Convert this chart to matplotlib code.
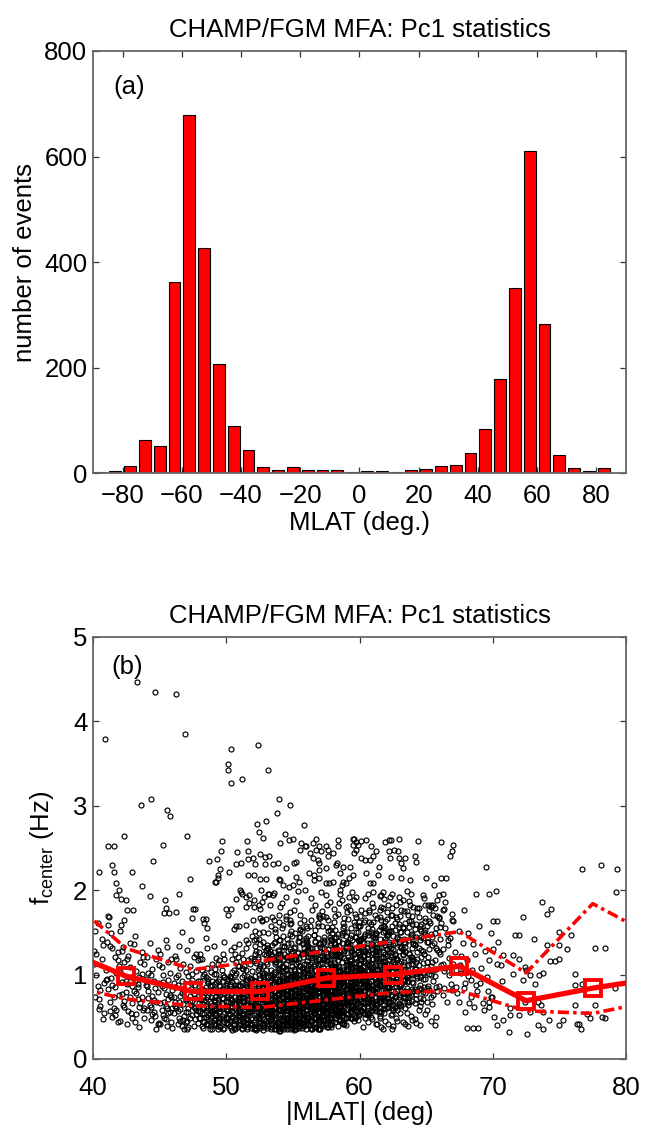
import matplotlib
matplotlib.use('Agg')
import matplotlib.pyplot as plt
import numpy as np

# ---------------- panel (a): histogram ----------------
hist_centers = [-87.5, -82.5, -77.5, -72.5, -67.5, -62.5, -57.5, -52.5, -47.5, -42.5,
                -37.5, -32.5, -27.5, -22.5, -17.5, -12.5, -7.5, -2.5, 2.5, 7.5,
                12.5, 17.5, 22.5, 27.5, 32.5, 37.5, 42.5, 47.5, 52.5, 57.5,
                62.5, 67.5, 72.5, 77.5, 82.5, 87.5]
hist_counts = [1, 3, 14, 63, 51, 362, 679, 426, 207, 90,
               44, 11, 6, 11, 6, 6, 6, 2, 3, 3,
               1, 6, 8, 13, 15, 38, 84, 179, 350, 611,
               283, 35, 9, 3, 9, 0]
hist_xticks = [-80, -60, -40, -20, 0, 20, 40, 60, 80]
hist_yticks = [0, 200, 400, 600, 800]

# ---------------- panel (b): red statistics lines ----------------
bin_centers = [37.5, 42.5, 47.5, 52.5, 57.5, 62.5, 67.5, 72.5, 77.5, 82.5]
f_median = [1.31, 0.98, 0.80, 0.80, 0.96, 1.00, 1.10, 0.69, 0.84, 0.96]
f_upper = [1.99, 1.31, 1.06, 1.16, 1.28, 1.39, 1.51, 1.02, 1.84, 1.42]
f_lower = [0.89, 0.71, 0.63, 0.61, 0.70, 0.79, 0.81, 0.57, 0.54, 0.70]
b_xticks = [40, 50, 60, 70, 80]
b_yticks = [0, 1, 2, 3, 4, 5]

# scatter points, per 1-degree |MLAT| column: token "dYYY" -> MLAT = col + d/10, f = YYY/100
scatter_40_49 = """
40: 0112 3087 5063 7135 9094 1152 4071 6118 8055 2099 0128 5082 7047 3161 9105 1074 6142 8090 4059 2124
41: 0095 2068 4131 6052 8117 1083 3149 5061 7102 9076 0139 2057 4088 6121 8044 1170 3096 5073 7058 9110 2134 6085 4050 8127
42: 1091 3062 5118 7074 9048 0103 2133 4079 6057 8097 1128 3069 5041 7109 9086 0152 2064 4093 6122 8054 1077 3115 5089 7138 9066 0045
43: 0081 2104 4062 6127 8049 1093 3071 5115 7058 9088 0136 2053 4097 6074 8112 1044 3085 5066 7121 9095 2078 4038 6101 8060 1146 3089
44: 1072 3099 5056 7118 9043 0087 2064 4107 6051 8129 1080 3046 5093 7067 9111 0058 2138 4075 6084 8041 1102 3062 5070 7036 9090 0121 4053 8079
45: 0066 2091 4047 6115 8073 1058 3084 5039 7102 9061 0125 2052 4077 6094 8044 1109 3068 5133 7056 9082 0041 2099 4063 6071 8118 1087 3049 5060 7076 9037 4141 6054
46: 1063 3088 5045 7112 9070 0054 2097 4068 6039 8081 1122 3057 5075 7046 9103 0090 2061 4134 6078 8051 1085 3042 5108 7065 9056 0074 2118 4049 6092 8035 1067 3100 5059 7083 9044 6150
47: 0071 2048 4094 6061 8117 1056 3083 5039 7104 9066 0129 2075 4052 6088 8043 1098 3064 5121 7058 9079 0036 2110 4069 6047 8092 1060 3141 5077 7053 9086 0045 2067 4101 6072 8057 1038 3090 5062 7125 9049
48: 1066 3044 5093 7058 9112 0071 2037 4085 6052 8103 1079 3060 5131 7046 9088 0057 2098 4063 6040 8074 1119 3053 5081 7069 9035 0092 2061 4143 6076 8048 1105 3068 5042 7087 9056 0124 2073 4050 6095 8062 1039 3082 5108 7054
48: 0049 1083 2062 3101 4041 5074 6090 7036 8066 9057 0118 1055 2044 3070 4097 5060 6047 7081 8039 9093
49: 0063 2091 4047 6072 8118 1055 3080 5038 7099 9067 0134 2052 4086 6059 8044 1107 3071 5061 7125 9050 0082 2040 4095 6066 8078 1048 3113 5057 7036 9088 0070 2101 4054 6083 8139 1064 3045 5076 7092 9059 0042 2120 4068 6051 8097 1074 3035 5087
49: 0058 1041 2075 3093 4062 5049 6106 7072 8037 9084 0046 1089 2060 3039 4117 5080 6066 7048 8097 9043 0101 1067 2052 3078 4044
"""

scatter_50_54 = """
50: 1058 3087 5041 7102 9069 0076 2053 4119 6064 8038 1095 3061 5080 7047 9136 0059 2072 4091 6035 8110 1067 3049 5154 7083 9056 0043 2098 4070 6125 8061 1082 3037 5106 7058 9074 0093 2046 4063 6088 8052 1171 3078 5040 7115 9065 0057 2089 4034 6099 8072 1048 3129 5066 7084 9051
50: 0048 1074 2039 3096 4057 5084 6045 7066 8121 9040 0090 1053 2080 3062 4103 5037 6073 7054 8088 9110 0064 1042 2097 3071 4050 5133 6061 7092 8046 9077
51: 0066 2044 4091 6057 8120 1073 3039 5085 7062 9104 0050 2078 4141 6046 8069 1097 3058 5036 7113 9081 0064 2053 4089 6072 8043 1126 3067 5094 7040 9059 0082 2107 4048 6076 8061 1035 3099 5070 7052 9146 0088 2063 4041 6117 8079 1055 3083 5038 7096 9068 0045 2073 4131 6059 8086 1049 3110 5064 7077 9042
51: 0058 1090 2049 3072 4106 5043 6081 7064 8037 9095 0073 1052 2118 3040 4065 5098 6054 7086 8049 9071 0041 1108 2062 3083 4047 5075 6137 7056 8092 9062 0087 1037 2069 3053 4094
52: 1071 3048 5096 7059 9123 0064 2037 4084 6052 8102 1079 3061 5043 7110 9073 0089 2055 4142 6067 8040 1098 3075 5058 7034 9087 0116 2063 4049 6081 8070 1036 3105 5054 7092 9045 0077 2128 4060 6085 8047 1066 3039 5113 7072 9056 0093 2041 4080 6163 8058 1087 3068 5047 7099 9062 0035 2074 4108 6053 8089 1134 3057 5076 7042 9069
52: 0052 1093 2071 3118 4039 5066 6102 7084 8047 9129 0141 1060 2034 3087 4075 5110 6056 7043 8095 9068 0081 1124 2049 3063 4099 5037 6077 7150 8058 9106 0044 1072 2114 3051 4086 5136 6065 7097 8038 9080
53: 0070 2047 4099 6061 8125 1082 3038 5074 7056 9107 0089 2063 4042 6115 8077 1051 3094 5068 7036 9141 0058 2084 4072 6046 8100 1065 3119 5053 7088 9040 0076 2057 4135 6081 8044 1098 3062 5035 7071 9112 0050 2093 4066 6154 8059 1079 3043 5103 7067 9085 0037 2128 4054 6075 8092 1048 3070 5117 7061 9033 0087 2056 4096 6073 8043 1131 3064 5080 7049 9106
53: 0061 1039 2082 3105 4050 5127 6069 7091 8044 9076 0113 1084 2053 3036 4096 5062 6139 7047 8108 9058 0088 1072 2120 3066 4041 5089 6054 7115 8078 9035 0132 1097 2045 3079 4064 5101 6040 7073 8121 9092 0056 1149 2060 3094 4083 5046 6112 7039 8066 9128 0042 1063 2099 3052 4168 5081 6095 7060 8041 9071 0075 1051 2087 3124 4057
54: 1074 3046 5101 7063 9128 0080 2040 4090 6057 8117 1066 3085 5036 7097 9071 0052 2109 4077 6045 8138 1093 3061 5082 7039 9056 0120 2068 4048 6087 8074 1104 3035 5063 7148 9079 0058 2096 4042 6070 8089 1053 3125 5076 7064 9037 0099 2083 4113 6050 8067 1042 3091 5071 7160 9060 0086 2047 4106 6081 8055 1134 3068 5094 7044 9075 0033 2119 4062 6099 8051 1078 3088 5058 7073 9110
54: 0093 1045 2074 3059 4121 5083 6041 7106 8066 9049 0037 1098 2062 3134 4071 5052 6089 7079 8043 9115 0068 1110 2039 3085 4047 5142 6061 7094 8126 9063 0104 1057 2091 3041 4080 5069 6117 7036 8075 9087 0053 1076 2146 3067 4096 5039 6082 7058 8101 9040 0125 1065 2050 3109 4062 5093 6048 7130 8056 9079 0084 1037 2078 3092 4044 5107 6073 7065 8161 9098
"""

scatter_55_59 = """
55: 0077 2051 4106 6064 8132 1089 3042 5071 7097 9058 0118 2069 4037 6084 8048 1101 3075 5145 7060 9089 0044 2092 4073 6055 8113 1064 3087 5039 7126 9076 0060 2100 4047 6079 8093 1035 3115 5067 7052 9138 0085 2058 4096 6071 8041 1122 3063 5080 7107 9050 0092 2036 4074 6152 8066 1083 3049 5110 7072 9041 0098 2077 4061 6087 8127 1054 3094 5068 7045 9083 0034 2119 4080 6057 8101 1070 3140 5062
55: 0049 1081 2060 3126 4090 5043 6108 7073 8055 9097 0071 1039 2113 3062 4054 5085 6037 7137 8081 9064 0099 1053 2088 3045 4118 5074 6062 7041 8104 9070 0131 1094 2047 3078 4066 5153 6089 7056 8039 9112 0058 1120 2070 3100 4044 5063 6125 7085 8068 9036 0107 1065 2040 3091 4139 5052 6076 7103 8047 9086 0082 1046 2097 3057 4110 5095 6043 7067 8090 9143 0038 1104 2080 3069 4075
56: 1082 3055 5110 7068 9137 0091 2045 4078 6059 8118 1073 3096 5041 7086 9063 0129 2070 4100 6050 8084 1146 3066 5092 7038 9075 0107 2061 4089 6043 8069 1121 3081 5054 7098 9036 0076 2113 4065 6087 8158 1049 3071 5095 7060 9104 0084 2040 4131 6073 8056 1090 3046 5078 7117 9067 0099 2053 4083 6140 8062 1072 3108 5057 7092 9044 0068 2124 4088 6048 8079 1102 3035 5066 7085 9171 0058 2094 4075 6112 8051
56: 0059 1098 2042 3072 4126 5085 6066 7048 8111 9090 0140 1063 2080 3037 4096 5054 6121 7076 8050 9067 0093 1040 2106 3064 4082 5147 6058 7092 8035 9118 0074 1110 2057 3089 4045 5069 6100 7131 8078 9054 0046 1083 2132 3051 4068 5038 6088 7060 8097 9079 0116 1049 2074 3103 4059 5124 6041 7083 8066 9046 0085 1134 2063 3095 4036 5076 6153 7106 8056 9093 0063 1071 2091 3044 4115
57: 0088 2061 4117 6072 8141 1095 3050 5081 7105 9066 0127 2076 4043 6092 8059 1112 3084 5156 7064 9097 0047 2101 4079 6062 8123 1070 3093 5038 7135 9082 0068 2109 4055 6086 8098 1041 3120 5074 7057 9149 0091 2065 4103 6078 8048 1131 3069 5088 7114 9053 0099 2042 4082 6165 8073 1092 3057 5118 7080 9045 0106 2085 4067 6095 8137 1060 3101 5076 7049 9089 0036 2126 4087 6063 8110 1077 3145 5070 7094 9058
57: 0079 1052 2119 3060 4093 5041 6108 7069 8088 9125 0047 1097 2066 3139 4074 5055 6038 7091 8113 9062 0101 1070 2046 3082 4052 5116 6084 7040 8068 9099 0136 1059 2090 3045 4127 5067 6051 7153 8080 9042 0061 1122 2073 3103 4040 5086 6095 7060 8038 9110 0093 1043 2102 3069 4082 5048 6130 7077 8054 9085 0054 1087 2058 3118 4061 5099 6070 7047 8142 9075 0112 1039 2081 3092 4168
58: 1094 3063 5121 7077 9146 0100 2054 4085 6068 8128 1081 3104 5047 7093 9070 0137 2079 4109 6058 8090 1153 3073 5098 7042 9083 0115 2066 4095 6051 8076 1131 3088 5061 7106 9040 0084 2122 4071 6097 8167 1057 3079 5103 7066 9111 0092 2048 4140 6080 8064 1099 3053 5086 7126 9074 0107 2060 4091 6149 8069 1080 3117 5063 7101 9049 0075 2133 4096 6055 8087 1110 3039 5072 7092 9180 0066
58: 0086 1058 2128 3068 4100 5046 6115 7075 8095 9133 0053 1104 2073 3148 4081 5061 6043 7098 8120 9068 0108 1077 2052 3089 4058 5123 6091 7045 8075 9106 0143 1066 2097 3051 4134 5074 6057 7161 8087 9048 0067 1129 2080 3110 4045 5093 6102 7067 8042 9117 0100 1048 2109 3076 4089 5054 6137 7084 8060 9092 0060 1094 2064 3125 4068 5106 6077 7052 8150 9082 0119 1044
59: 0097 2068 4128 6082 8151 1105 3059 5089 7114 9073 0139 2084 4048 6100 8066 1121 3093 5162 7071 9108 0053 2112 4086 6069 8133 1078 3101 5045 7144 9090 0076 2118 4061 6094 8106 1050 3127 5082 7065 9157 0099 2072 4110 6087 8056 1138 3077 5096 7120 9062 0104 2049 4091 6172 8080 1098 3064 5125 7085 9052 0113 2090 4074 6103 8141 1067 3109 5081 7058 9095
59: 0092 1064 2136 3074 4107 5051 6121 7081 8102 9140 0059 1111 2080 3155 4088 5067 6048 7105 8127 9074 0115 1084 2057 3096 4063 5130 6098 7050 8082 9113 0150 1072 2104 3056 4141 5080 6062 7168 8094 9053 0073 1136 2087 3117 4049 5100 6109 7073 8046 9124 0107 1053 2116 3083 4095 5059 6144 7091 8066 9099 0066 1101 2070 3132 4074 5113 6084 7057 8158 9088
"""

scatter_60_69 = """
60: 1099 3072 5131 7085 9154 0108 2062 4093 6118 8076 1142 3089 5053 7104 9070 0125 2097 4165 6074 8112 1058 3116 5088 7071 9136 0081 2103 4049 6147 8092 1079 3122 5066 7097 9108 0056 2130 4085 6069 8160 1102 3075 5113 7090 9063 0141 2081 4098 6124 8067 1106 3054 5094 7177 9083 0100 2068 4128 6087 8058 1117 3093 2038 6044 9047
60: 0097 1069 2143 3080 4114 5056 6128 7087 8108 9147 0064 1118 2086 3162 4094 5072 6052 7111 8134 9079 0121 1090 2061 3102 4068 5137 6104 7055 8088 9119 0157 1077 2110 3060 4148 5085 6066 7174 8100 9057 0078 1142 2092 3123 4053 5106 6115 7078 8050 9130 0113 1058 2122 3089 4101 5063 6151 7097 8071 9105 0071 1107 2075 3138 4080
61: 0101 2074 4133 6088 8157 1111 3065 5096 7121 9079 0145 2091 4056 6107 8072 1128 3099 5168 7076 9115 0060 2119 4090 6073 8139 1084 3106 5051 7150 9095 0082 2125 4068 6100 8111 1059 3133 5087 7071 9163 0104 2078 4116 6093 8064 1143 3083 5101 7127 9069 0109 2057 4097 6180 8086 3041 7036 5048
61: 0102 1073 2148 3085 4119 5060 6133 7091 8113 9152 0068 1123 2090 3167 4099 5076 6056 7116 8139 9083 0126 1095 2065 3107 4072 5142 6109 7059 8093 9124 0162 1081 2115 3064 4153 5089 6070 7179 8105 9061 0082 1147 2096 3128 4057 5111 6120 7082 8054 9135 0118 1062 2127 3093 4106 5067 6156 7101 8075 9110 2041 6038 9045
62: 1103 3076 5135 7090 9160 0113 2067 4098 6123 8081 1148 3093 5058 7109 9074 0130 2101 4171 6078 8118 1062 3121 5092 7075 9142 0086 2108 4053 6153 8097 1084 3127 5070 7102 9114 0061 2136 4089 6073 8166 1106 3080 5119 7095 9066 0146 2085 4104 5039 8045
62: 0106 1077 2152 3089 4123 5064 6137 7095 8117 9156 0072 1127 2094 3171 4103 5080 6060 7120 8143 9087 0130 1099 2069 3111 4076 5146 6113 7063 8097 9128 0166 1085 2119 3068 4157 5093 6074 7183 8109 9065 0086 1151 2100 3132 4061 5115 6124 7086 8058 9139 0122 1066 1042 4036 7048 3052
63: 0105 2078 4138 6092 8163 1116 3069 5100 7126 9083 0151 2095 4060 6111 8076 1133 3104 5175 7080 9121 0064 2124 4094 6077 8145 1088 3111 5055 7156 9099 0086 2130 4072 6105 8117 1063 3139 5091 7075 9169 4041 9046
63: 0109 1080 2156 3093 4127 5068 6141 7099 8121 9160 0076 1131 2098 3175 4107 5084 6064 7124 8147 9091 0134 1103 2073 3115 4080 5150 6117 7067 8101 9132 0170 1089 2123 3072 4161 5097 6078 7187 8113 9069 2044 6039 8051 0055
64: 1107 3080 5141 7095 9167 0119 2071 4103 6129 8085 1154 3098 5063 7114 9078 0136 2107 4179 6083 8124 1066 3127 5097 7079 9148 0090 2115 4058 6160 8102 2043
64: 0112 1083 2160 3096 4131 5072 6145 7103 8125 9164 0080 1135 2102 3179 4111 5088 6068 7128 8151 9095 0138 1107 2077 3119 4084 5154 6121 7071 1047 5040 9053
65: 0109 2082 4145 6098 8170 1121 3073 5106 7132 9087 0158 2101 4065 6117 8080 1139 3110 5182 7085 9127 0068 2130 6040
65: 0115 1086 2164 3100 4135 5076 6149 7107 8129 9168 0084 1139 2106 3183 4115 5092 3045 7050 0058
66: 1111 3084 5148 7100 9172 0124 2076 4108 6135 8089 1161 3104 5067 7120 9082 0142 2113 4186
67: 0113 2085 4152 6102 8176 1127 3078 5111 7138 9090 0163 2106 4068 6122 8084
68: 1098 3073 5136 7088 9158 0117 2066 4105 6125 8080 1149 3094
69: 0090 2066 4128 6081 8149 1108 3058 5097 7117 9074
"""

# upper part of the dense core (1.1 - 2.0 Hz)
scatter_upper_core = """
52: 0118 2142 4127 6165 8133 1152 3121 5178 7139 9115 0188 4149 8124
53: 1126 3158 5119 7144 9171 0135 2183 4122 6150 8129 1196 5137 9162
54: 0141 2117 4166 6128 8152 1185 3133 5121 7174 9146 0124 2159 4192 6138 8119
55: 1149 3127 5171 7136 9158 0119 2187 4145 6126 8165 1133 3199 5154 7121 9141 0176
56: 0155 2122 4176 6139 8161 1130 3191 5147 7124 9168 0136 2158 4120 6183 8143 1127 3165
57: 1158 3131 5182 7144 9122 0167 2137 4194 6152 8126 1175 3141 5121 7186 9156 0133 2169
58: 0162 2125 4185 6147 8129 1170 3140 5196 7155 9132 0178 2144 4122 6188 8158 1136 3172
59: 1166 3129 5188 7151 9135 0174 2143 4198 6159 8127 1181 3147 5125 7192 9162 0139 2176
60: 0169 2133 4191 6155 8138 1177 3146 5124 7162 9185 0141 2128 4173 6195 8151 1132
61: 1171 3136 5193 7158 9142 0180 2149 4127 6165 8189 1144 3131 5176 7198 9155
62: 0174 2139 4196 6161 8145 1183 3152 5130 7168 9192 0147 2134 4179
63: 1177 3142 5199 7164 9148 0186 2155 4133 6171 8195 1150
64: 0180 2145 4168 6152 8191 1136 3174 5158 7143
65: 1183 3148 5171 7155 9194 0139 2177
66: 0156 3178 6141 9165 2130
"""

# individually read points ("MLAT f" pairs)
scatter_read = """
43.33 4.47, 44.66 4.35, 46.24 4.32, 40.88 3.79, 46.92 3.85, 50.32 3.67, 52.41 3.72, 50.15 3.49,
50.15 3.42, 50.32 3.27, 51.2 3.32, 53.16 3.42, 53.98 3.08, 54.79 3.01, 44.34 3.08, 43.59 3.01,
45.59 2.95, 45.79 2.88, 53.78 2.91, 52.98 2.82, 52.33 2.78, 55.81 2.77, 52.48 2.69, 52.76 2.62,
42.33 2.64, 47.04 2.64, 41.1 2.52, 41.55 2.52, 45.29 2.53, 49.67 2.58, 51.58 2.58, 50.78 2.45,
51.66 2.46, 49.57 2.47, 49.32 2.37, 48.72 2.35, 44.54 2.35, 41.45 2.30, 40.48 2.22, 41.61 2.21,
42.94 2.22, 50.73 2.31, 51.63 2.37, 52.16 2.31, 52.94 2.39, 52.94 2.31, 53.54 2.31, 50.23 2.21,
49.53 2.25, 49.38 2.18, 49.13 2.10, 47.3 2.13, 41.7 2.08, 43.7 2.05, 51.6 2.18, 52.1 2.18,
52.5 2.13, 53.0 2.13, 53.98 2.13, 54.5 2.26,
54.44 2.67, 54.69 2.59, 54.99 2.61, 55.61 2.56, 55.99 2.52, 56.49 2.56, 56.74 2.61, 56.99 2.52,
57.49 2.52, 57.62 2.48, 57.99 2.44, 58.37 2.59, 58.37 2.52, 59.50 2.61, 59.70 2.57, 59.75 2.48,
55.24 2.33, 56.29 2.44, 56.49 2.38, 56.99 2.32, 57.62 2.40, 58.75 2.28, 59.25 2.28, 59.50 2.18,
56.24 2.20, 56.62 2.18, 56.99 2.24, 57.49 2.26, 58.24 2.30, 58.50 2.20, 58.75 2.10, 57.99 2.10,
57.49 2.08, 56.99 2.14, 54.99 2.06, 55.49 2.10, 54.24 2.06,
69.53 2.27, 76.67 2.25, 78.1 2.30, 79.35 2.25, 66.14 2.57, 67.02 2.54, 66.97 2.46, 66.82 2.40,
64.39 2.58, 62.93 2.61, 62.2 2.59, 62.4 2.60, 61.88 2.57, 60.5 2.59, 60.12 2.58, 59.87 2.54,
59.6 2.61, 59.5 2.54, 59.6 2.44, 60.88 2.52, 61.25 2.46, 62.2 2.46, 62.6 2.48, 62.9 2.46,
62.3 2.38, 63.0 2.38, 63.4 2.38, 64.14 2.40, 64.27 2.33, 63.1 2.32, 63.3 2.26, 61.0 2.40,
60.8 2.36, 60.1 2.38, 60.4 2.36, 61.5 2.27, 61.4 2.18, 60.5 2.20, 62.38 2.16, 63.13 2.14,
63.76 2.12, 64.96 2.14, 65.6 2.06, 66.1 2.15, 66.5 2.14, 60.76 2.08, 61.0 2.08, 59.2 2.15,
59.0 2.08, 58.7 2.06,
41.75 1.94, 41.95 2.0, 42.46 1.88, 42.53 1.76, 42.08 1.90, 42.97 1.77, 42.3 1.65, 42.1 1.59,
41.2 1.68, 41.15 1.59, 44.26 1.93, 45.4 1.88, 45.5 1.79, 45.34 1.73, 45.71 1.73, 46.2 1.74,
46.47 1.96, 47.47 1.78, 47.67 1.78, 47.42 1.67, 48.27 1.66, 48.47 1.66, 48.52 1.55, 48.35 1.61,
49.22 2.10, 49.35 2.15, 51.1 1.98, 51.2 1.96, 51.45 1.92, 51.7 1.85, 51.45 1.80, 52.1 1.80,
52.45 1.82, 52.7 1.86, 52.8 1.92, 53.2 1.96, 53.6 1.97, 49.97 1.78, 50.35 1.78, 50.7 1.57,
50.98 1.58, 51.5 1.59, 52.0 1.65, 52.5 1.67, 53.0 1.66, 54.0 1.80, 54.5 1.69, 53.6 1.65,
54.2 1.55, 54.8 1.65, 55.5 1.61,
61.0 1.98, 61.6 1.94, 62.3 1.92, 63.3 1.88, 63.8 1.83, 64.8 1.94, 64.9 1.83, 65.7 1.79, 66.3 1.96,
54.0 2.56, 51.1 2.32, 52.0 2.38, 52.5 2.43, 53.2 2.40, 53.9 2.32, 55.1 2.32, 55.5 2.48,
55.9 2.52, 56.7 2.48, 57.1 2.46, 56.9 2.36, 58.3 2.32,
54.0 2.12, 54.7 2.04, 55.2 2.16, 55.9 2.0, 56.6 2.12, 57.1 1.98, 57.7 2.08, 58.5 2.0,
59.2 1.92, 53.5 1.94, 52.6 2.0, 51.7 1.94, 50.7 1.90, 51.0 2.0,
65.3 1.61, 66.0 1.67, 64.9 1.53, 65.6 1.37, 66.4 1.55, 66.8 1.43, 65.4 1.80, 66.3 1.76, 65.8 1.88,
79.25 1.98, 70.21 1.99, 69.71 1.96, 68.77 1.96, 73.7 1.86, 74.1 1.72, 74.4 1.78, 72.3 1.68,
70.0 1.64, 70.3 1.64, 71.7 1.47, 72.0 1.47, 73.1 1.42, 75.0 1.50, 75.9 1.47, 74.1 1.35,
75.0 1.35, 75.6 1.30, 77.67 1.32, 78.4 1.32, 70.0 1.30, 70.4 1.39, 70.8 1.23, 71.5 1.23,
72.0 1.19, 70.3 1.13, 70.6 1.11, 71.5 1.01, 70.7 0.92, 72.4 1.09, 72.5 1.06, 73.5 1.0,
73.8 1.02, 74.3 1.16, 74.7 1.16, 75.0 1.18, 76.2 1.01, 76.7 0.89, 73.2 0.89, 72.3 0.94,
72.8 1.0, 77.67 0.64, 78.2 0.50, 76.2 0.64, 73.4 0.68, 73.8 0.56, 73.6 0.64, 71.3 0.60,
71.3 0.52, 72.0 0.52, 72.8 0.56, 72.4 0.68, 70.3 0.40, 68.1 0.37, 68.5 0.37, 68.9 0.37,
71.2 0.32, 72.6 0.30, 73.4 0.40, 73.8 0.35, 75.0 0.40, 75.3 0.46, 76.5 0.41, 76.6 0.36,
76.3 0.42, 77.1 0.53, 77.3 0.49, 78.4 0.49, 69.9 0.74, 69.7 0.68, 69.7 0.62, 67.9 0.56,
68.6 0.62, 70.8 0.46, 70.1 0.50, 79.2 0.84, 76.2 0.88, 74.2 0.46
"""


def parse_columns(block):
    xs, ys = [], []
    for line in block.strip().splitlines():
        col, toks = line.split(':')
        c = int(col)
        for t in toks.split():
            xs.append(c + int(t[0]) / 10.0 + 0.05)
            ys.append(int(t[1:]) / 100.0)
    return xs, ys


def parse_pairs(block):
    xs, ys = [], []
    for item in block.replace('\n', ' ').split(','):
        item = item.strip()
        if not item:
            continue
        a, b = item.split()
        xs.append(float(a))
        ys.append(float(b))
    return xs, ys


sx, sy = [], []
for blk in (scatter_40_49, scatter_50_54, scatter_55_59, scatter_60_69, scatter_upper_core):
    a, b = parse_columns(blk)
    sx += a
    sy += b
a, b = parse_pairs(scatter_read)
sx += a
sy += b

# ---------------- figure ----------------
plt.rcParams['font.family'] = ['Liberation Sans', 'DejaVu Sans']
plt.rcParams['mathtext.fontset'] = 'custom'
plt.rcParams['mathtext.rm'] = 'Liberation Sans'
plt.rcParams['mathtext.it'] = 'Liberation Sans:italic'
plt.rcParams['lines.scale_dashes'] = False

FS = 18.5
W, H = 651, 1132
fig = plt.figure(figsize=(W / 100, H / 100), dpi=100)
ax1 = fig.add_axes([93 / W, 1 - 473 / H, (626 - 93) / W, 422 / H])
ax2 = fig.add_axes([93 / W, 1 - 1059 / H, (626 - 93) / W, 422 / H])


def style(ax):
    for s in ax.spines.values():
        s.set_color('#666666')
        s.set_linewidth(1.3)
    ax.tick_params(direction='in', top=True, right=True, length=4.5, width=0.9,
                   color='#333333', labelsize=FS)
    ax.tick_params(axis='y', pad=4)
    ax.tick_params(axis='x', pad=8)


# panel (a)
ax1.bar(hist_centers, hist_counts, width=4, color='#ff0000', edgecolor='black',
        linewidth=0.8)
ax1.set_xlim(-90, 90)
ax1.set_ylim(0, 800)
ax1.set_xticks(hist_xticks)
ax1.set_yticks(hist_yticks)
style(ax1)
ax1.set_title('CHAMP/FGM MFA: Pc1 statistics', fontsize=FS, pad=10)
ax1.set_xlabel('MLAT (deg.)', fontsize=FS, labelpad=2)
ax1.set_ylabel('number of events', fontsize=FS, labelpad=5)
ax1.text(-83, 732, '(a)', fontsize=FS, ha='left', va='center')

# panel (b)
ax2.plot(sx, sy, 'o', ls='none', mfc='none', mec='black', ms=3.6, mew=0.85, zorder=2)
ax2.plot(bin_centers, f_upper, color='#ff0000', lw=2.6, dashes=(8, 3, 2.5, 3), zorder=3)
ax2.plot(bin_centers, f_lower, color='#ff0000', lw=2.6, dashes=(8, 3, 2.5, 3), zorder=3)
ax2.plot(bin_centers, f_median, color='#ff0000', lw=3.8, marker='s', ms=12,
         mfc='none', mec='#ff0000', mew=2.8, zorder=4)
ax2.set_xlim(40, 80)
ax2.set_ylim(0, 5)
ax2.set_xticks(b_xticks)
ax2.set_yticks(b_yticks)
style(ax2)
ax2.tick_params(axis='x', pad=12)
ax2.set_title('CHAMP/FGM MFA: Pc1 statistics', fontsize=FS, pad=10)
ax2.set_xlabel('|MLAT| (deg)', fontsize=FS, labelpad=1)
ax2.set_ylabel(r'f$_{\mathregular{center}}$ (Hz)', fontsize=FS, labelpad=12)
ax2.text(41.35, 4.64, '(b)', fontsize=FS, ha='left', va='center')

fig.savefig('out.png', dpi=100)
